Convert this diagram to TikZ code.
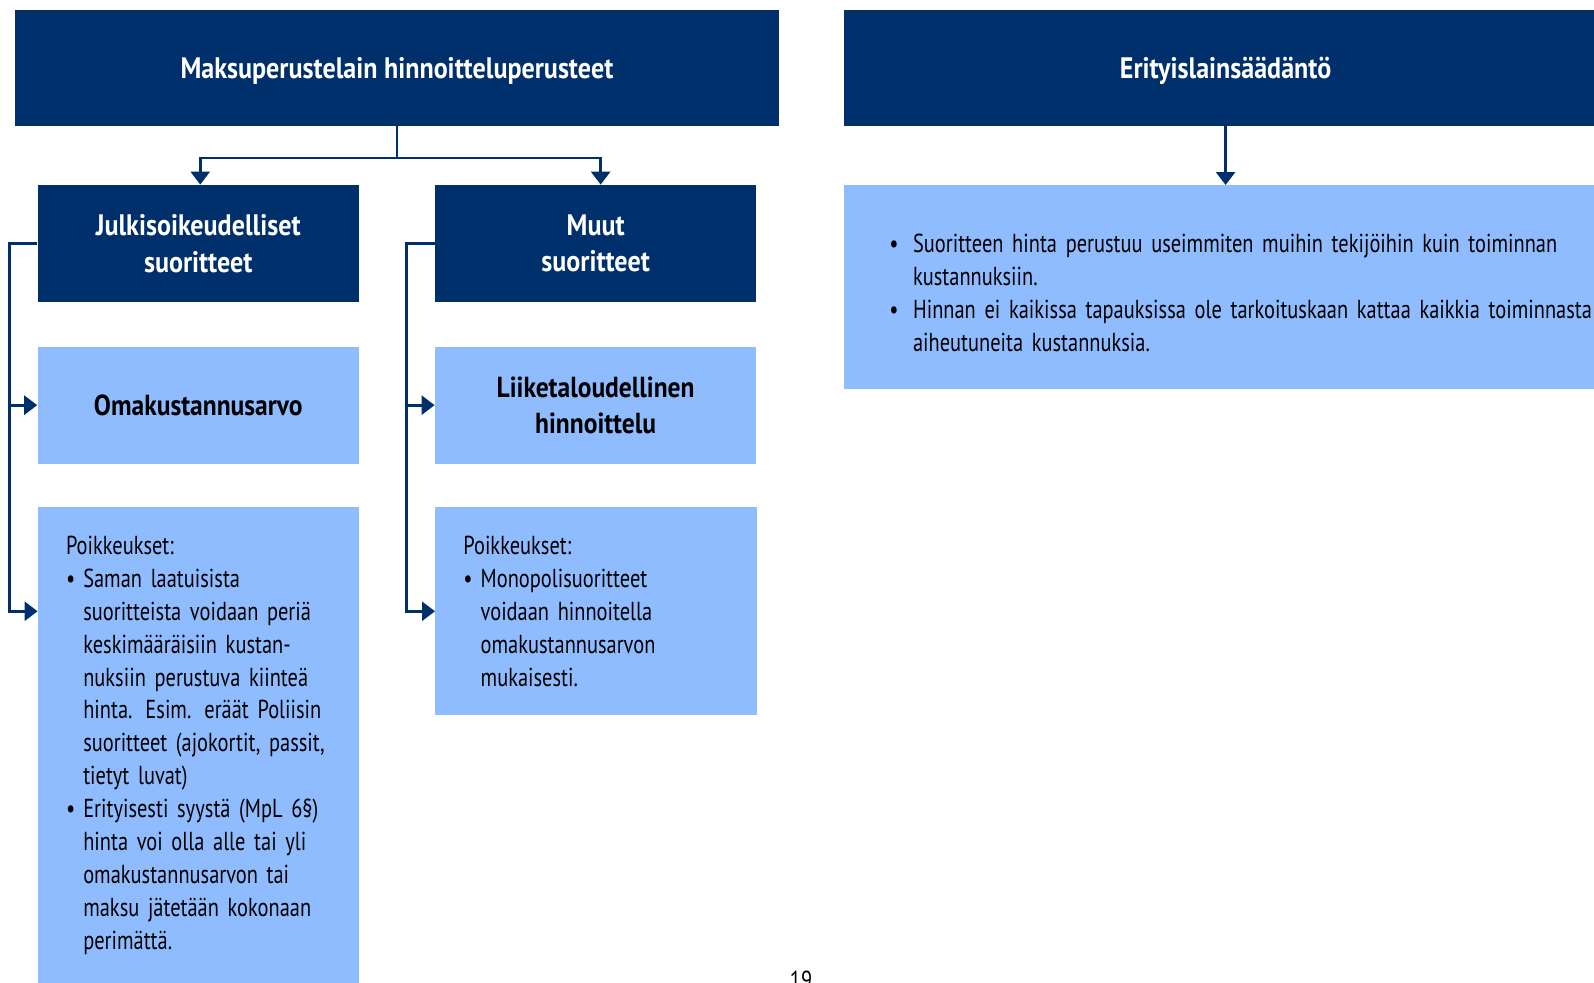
\documentclass[tikz,border=0pt]{standalone}
\usepackage{fontspec}
\setmainfont{PT Sans}[FakeStretch=0.785, BoldFeatures={FakeStretch=0.88}]
\usetikzlibrary{arrows.meta,positioning}

\definecolor{navyblue}{HTML}{00306B}
\definecolor{paleblue}{HTML}{8FBCFE}

\newcommand{\bul}[1][8.65pt]{\makebox[#1][l]{\textbullet}}
\newcommand{\ind}[1][8.65pt]{\hspace*{#1}}

\begin{document}
\begin{tikzpicture}[
	x = 0.5pt, y = -0.5pt,
	> = {Triangle[length=6.5pt,width=9.5pt]},
	topbox/.style = {fill=navyblue, text=white, inner sep=0pt,
		minimum width=381.75pt, minimum height=57.9pt,
		text height=10pt, text depth=0pt,
		font=\bfseries\fontsize{14.8}{18}\selectfont},
	headbox/.style = {fill=navyblue, text=white, inner sep=0pt, align=center,
		minimum width=160.65pt, minimum height=58.5pt,
		font=\bfseries\fontsize{14.8}{18.3}\selectfont},
	mainbox/.style = {fill=paleblue, inner sep=0pt, align=center,
		minimum width=160.65pt, minimum height=58.45pt,
		font=\bfseries\fontsize{14.5}{17.8}\selectfont},
	listbox/.style = {fill=paleblue, anchor=north west, inner xsep=14pt, inner ysep=0pt,
		text width=132.65pt, align=left, text height=23.5pt,
		font=\fontsize{13}{16.45}\selectfont},
	link/.style = {draw=navyblue, line width=1.35pt}
	]
	\useasboundingbox (0,0) rectangle (1594,982);
	% top row
	\node[topbox] (maks) at (397,68.1) {Maksuperustelain hinnoitteluperusteet};
	\node[topbox] (erit) at (1225.6,68.1) {Erityislainsäädäntö};
	% two kinds of services
	\node[headbox] (julki) at (198.25,243.5) {Julkisoikeudelliset\\suoritteet};
	\node[headbox] (muut) at (595.65,243.5) {Muut\\suoritteet};
	\node[mainbox] (omak) at (198.25,405.15) {Omakustannusarvo};
	\node[mainbox] (liike) at (595.65,405.15) {Liiketaloudellinen\\hinnoittelu};
	% exceptions
	\node[listbox, text depth=260pt] (poikkA) at (37.6,507) {%
		Poikkeukset:\\
		\bul Saman laatuisista\\
		\ind suoritteista voidaan periä\\
		\ind keskimääräisiin kustan-\\
		\ind nuksiin perustuva kiinteä\\
		\ind hinta. Esim. eräät Poliisin\\
		\ind suoritteet (ajokortit, passit,\\
		\ind tietyt luvat)\\
		\bul Erityisesti syystä (MpL 6§)\\
		\ind hinta voi olla alle tai yli\\
		\ind omakustannusarvon tai\\
		\ind maksu jätetään kokonaan\\
		\ind perimättä.};
	\node[listbox, text depth=80.35pt] (poikkB) at (435,507) {%
		Poikkeukset:\\
		\bul Monopolisuoritteet\\
		\ind voidaan hinnoitella\\
		\ind omakustannusarvon\\
		\ind mukaisesti.};
	% special legislation
	\node[listbox, inner xsep=22.6pt, text width=370pt,
		text height=33.6pt, text depth=68.4pt] (eritbox) at (843.8,185) {%
		\bul[11.85pt]Suoritteen hinta perustuu useimmiten muihin tekijöihin kuin toiminnan\\
		\ind[11.85pt]kustannuksiin.\\
		\bul[11.85pt]Hinnan ei kaikissa tapauksissa ole tarkoituskaan kattaa kaikkia toiminnasta\\
		\ind[11.85pt]aiheutuneita kustannuksia.};
	\node[font=\fontsize{13}{16}\selectfont, anchor=base] (sivu) at (801,989) {19};
	% connectors
	\draw[link,->] (maks.south) -- ++(0,31.6) -| ([xshift=1pt]julki.north);
	\draw[link,->] (maks.south) -- ++(0,31.6) -| ([xshift=2.5pt]muut.north);
	\draw[link,->] (erit.south) -- (eritbox.north -| erit.south);
	\draw[link,->] (julki.west) -- ++(-27.4,0) |- (omak.west);
	\draw[link,->] (julki.west) -- ++(-27.4,0) |- (poikkA.west |- poikkB.west);
	\draw[link,->] (muut.west) -- ++(-28.4,0) |- (liike.west);
	\draw[link,->] (muut.west) -- ++(-28.4,0) |- (poikkB.west);
\end{tikzpicture}
\end{document}
